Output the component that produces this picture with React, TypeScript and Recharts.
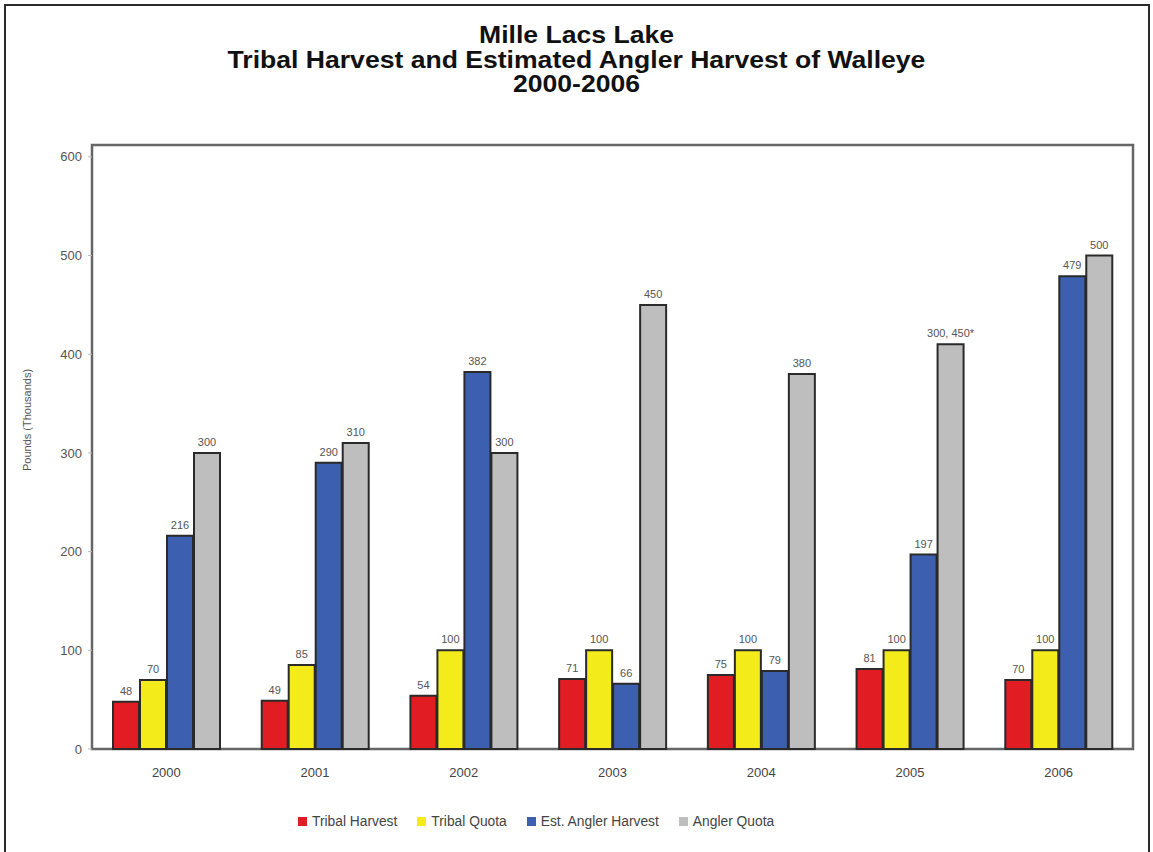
import React from 'react';
import { BarChart, Bar, XAxis, YAxis, LabelList, ReferenceArea } from 'recharts';

const years = ['2000', '2001', '2002', '2003', '2004', '2005', '2006'];
const tribalHarvest = [48, 49, 54, 71, 75, 81, 70];
const tribalQuota = [70, 85, 100, 100, 100, 100, 100];
const anglerHarvest = [216, 290, 382, 66, 79, 197, 479];
const anglerQuota = [300, 310, 300, 450, 380, 410, 500];
const anglerQuotaLabels = ['300', '310', '300', '450', '380', '300, 450*', '500'];
const yTicks = [0, 100, 200, 300, 400, 500, 600];

const seriesNames = ['Tribal Harvest', 'Tribal Quota', 'Est. Angler Harvest', 'Angler Quota'];
const seriesColors = ['#e11d23', '#f4ec1a', '#3d5fb0', '#bfbebf'];

const FONT = '"Liberation Sans", Arial, sans-serif';

const chartData = years.map((year, i) => ({
  year,
  tribalHarvest: tribalHarvest[i],
  tribalQuota: tribalQuota[i],
  anglerHarvest: anglerHarvest[i],
  anglerQuota: anglerQuota[i],
  anglerQuotaLabel: anglerQuotaLabels[i],
}));

const keys = ['tribalHarvest', 'tribalQuota', 'anglerHarvest', 'anglerQuota'];
const labelKeys = ['tribalHarvest', 'tribalQuota', 'anglerHarvest', 'anglerQuotaLabel'];

// plain one-line value label above each bar
const renderBarLabel = (props: any) => {
  const { x, y, width, value } = props;
  return (
    <text
      x={Number(x) + Number(width) / 2}
      y={Number(y) - 7}
      textAnchor="middle"
      fill="#555"
      fontSize={11}
      fontFamily={FONT}
    >
      {value}
    </text>
  );
};

export default function App() {
  return (
    <div
      style={{
        position: 'absolute',
        left: 0,
        top: 0,
        width: 1153,
        height: 852,
        overflow: 'hidden',
        background: '#fff',
        fontFamily: FONT,
      }}
    >
      {/* outer frame, open at the bottom */}
      <div
        style={{
          position: 'absolute',
          left: 4,
          top: 4,
          width: 1142,
          height: 900,
          borderTop: '2px solid #2b2b2b',
          borderLeft: '2px solid #2b2b2b',
          borderRight: '2px solid #2b2b2b',
        }}
      />

      <div
        style={{
          position: 'absolute',
          left: 0,
          top: 23,
          width: 1153,
          textAlign: 'center',
          fontWeight: 'bold',
          fontSize: 23,
          lineHeight: '24.5px',
          color: '#111',
        }}
      >
        <div style={{ transform: 'scaleX(1.155)' }}>
          <div>Mille Lacs Lake</div>
          <div>Tribal Harvest and Estimated Angler Harvest of Walleye</div>
          <div>2000-2006</div>
        </div>
      </div>

      <div style={{ position: 'absolute', left: 0, top: 0 }}>
        <BarChart
          width={1153}
          height={852}
          data={chartData}
          margin={{ top: 145, right: 20, bottom: 73, left: 0 }}
          barSize={26}
          barGap={1}
        >
          <XAxis
            dataKey="year"
            axisLine={false}
            tickLine={false}
            tickMargin={13}
            height={30}
            tick={{ fill: '#444', fontSize: 13, fontFamily: FONT }}
          />
          <YAxis
            width={92}
            domain={[0, 612]}
            ticks={yTicks}
            axisLine={false}
            tickLine={{ stroke: '#bbb' }}
            tickSize={4}
            tickMargin={6}
            tick={{ fill: '#555', fontSize: 13, fontFamily: FONT }}
            label={{
              content: () => (
                <text
                  x={28}
                  y={420}
                  transform="rotate(-90 28 420)"
                  textAnchor="middle"
                  dominantBaseline="middle"
                  fill="#555"
                  fontSize={11}
                  fontFamily={FONT}
                >
                  Pounds (Thousands)
                </text>
              ),
            }}
          />
          {keys.map((k, i) => (
            <Bar
              key={k}
              dataKey={k}
              name={seriesNames[i]}
              fill={seriesColors[i]}
              stroke="#2a2a2a"
              strokeWidth={2}
              isAnimationActive={false}
            >
              <LabelList dataKey={labelKeys[i]} content={renderBarLabel} />
            </Bar>
          ))}
          <ReferenceArea y1={0} y2={612} fill="none" stroke="#666" strokeWidth={2.5} />
        </BarChart>
      </div>

      {/* legend */}
      <div
        style={{
          position: 'absolute',
          left: 298,
          top: 814,
          display: 'flex',
          alignItems: 'center',
          fontSize: 13.8,
          color: '#444',
        }}
      >
        {seriesNames.map((name, i) => (
          <div key={name} style={{ display: 'flex', alignItems: 'center', marginRight: 20 }}>
            <span
              style={{
                display: 'inline-block',
                width: 9,
                height: 9,
                background: seriesColors[i],
                marginRight: 5,
              }}
            />
            <span>{name}</span>
          </div>
        ))}
      </div>
    </div>
  );
}
